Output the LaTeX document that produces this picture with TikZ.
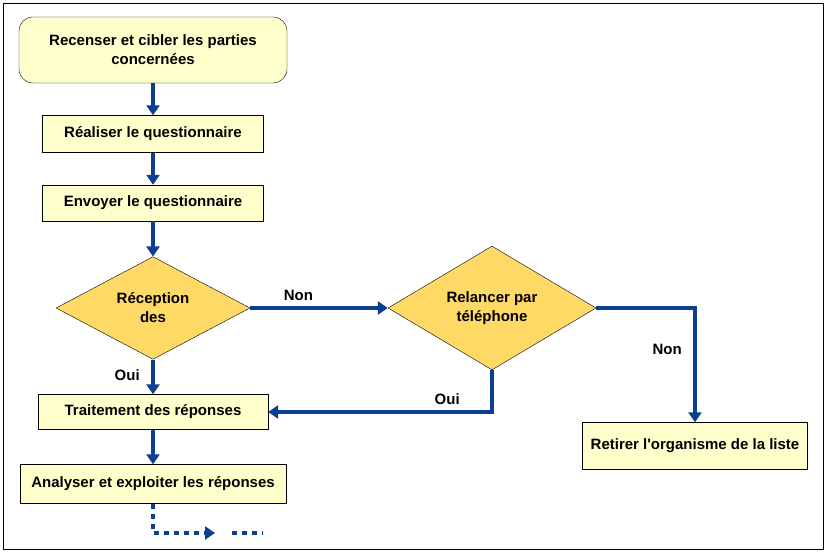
\documentclass[tikz,border=0pt]{standalone}
\usepackage{fontspec}
\setmainfont{Liberation Sans}
\usetikzlibrary{shapes.geometric,arrows.meta}
\definecolor{boxfill}{HTML}{FFFFCC}
\definecolor{diafill}{HTML}{FFD966}
\definecolor{flowblue}{HTML}{0B3F91}

\begin{document}
\begin{tikzpicture}[
        x=1pt, y=-1pt,
        every node/.style={font=\bfseries\fontsize{15}{19}\selectfont, align=center},
        task/.style={draw, fill=boxfill, inner sep=0pt},
        decision/.style={diamond, draw, fill=diafill, inner sep=0pt, minimum width=194pt, minimum height=100pt},
        flow/.style={draw=flowblue, line width=4pt, -{Triangle[length=10pt,width=13pt]}},
        lbl/.style={fill=none}
    ]
    \useasboundingbox (0,0) rectangle (827,553);
    \draw[line width=0.8pt] (3,3) rectangle (823,549);

    % boxes of the main column
    \node[task, rounded corners=14pt, minimum width=268pt, minimum height=66pt] (recenser) at (153,50) {Recenser et cibler les parties\\concernées};
    \node[task, minimum width=221pt, minimum height=37pt] (realiser) at (153,134) {Réaliser le questionnaire};
    \node[task, minimum width=221pt, minimum height=36pt] (envoyer) at (153,203) {Envoyer le questionnaire};

    % decisions
    \node[decision] (reception) at (153,308) {Réception\\des};
    \node[decision, minimum width=208pt] (relancer) at (492,308) {Relancer par\\téléphone};

    % lower boxes
    \node[task, minimum width=230pt, minimum height=35pt] (traitement) at (153,412) {Traitement des réponses};
    \node[task, minimum width=266pt, minimum height=39pt] (analyser) at (153,484) {Analyser et exploiter les réponses};
    \node[task, minimum width=225pt, minimum height=47pt] (retirer) at (695,446) {Retirer l\textquotesingle organisme de la liste};

    \coordinate (coinA) at (695,308);
    \coordinate (coinB) at (492,412);
    \coordinate (bas) at (153,533);
    \coordinate (fin) at (215,533);

    % connectors
    \draw[flow] (recenser) -- (realiser);
    \draw[flow] (realiser) -- (envoyer);
    \draw[flow] (envoyer) -- (reception);
    \draw[flow] (reception) -- node[lbl, pos=0.45, left=8pt] {Oui} (traitement);
    \draw[flow] (reception.east) -- node[lbl, pos=0.35, above=2pt] {Non} (relancer.west);
    \draw[flow] (relancer.east) -- (coinA) -- node[lbl, pos=0.36, left=8pt] {Non} (retirer.north);
    \draw[flow] (relancer.south) -- (coinB) -- node[lbl, pos=0.2, above=2pt] {Oui} (traitement.east);
    \draw[flow] (traitement) -- (analyser);

    % dotted continuation
    \draw[flow, dash pattern=on 5pt off 5pt] (analyser.south) -- (bas) -- (fin);
    \draw[draw=flowblue, line width=4pt, dash pattern=on 5pt off 5pt] (232,533) -- (263,533);
\end{tikzpicture}
\end{document}
